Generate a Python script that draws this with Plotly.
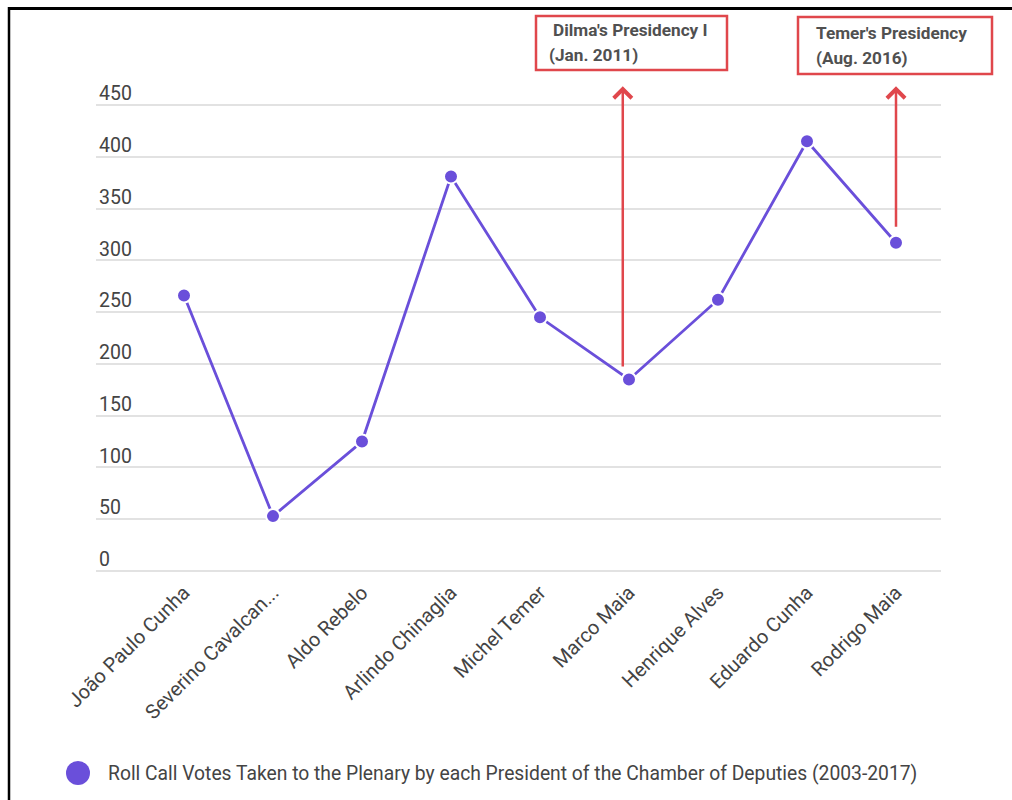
import plotly.graph_objects as go

# ---- data ----
presidents = ["João Paulo Cunha", "Severino Cavalcanti", "Aldo Rebelo", "Arlindo Chinaglia",
              "Michel Temer", "Marco Maia", "Henrique Alves", "Eduardo Cunha", "Rodrigo Maia"]
tick_text = ["João Paulo Cunha", "Severino Cavalcan...", "Aldo Rebelo", "Arlindo Chinaglia",
             "Michel Temer", "Marco Maia", "Henrique Alves", "Eduardo Cunha", "Rodrigo Maia"]
roll_call_votes = [266, 53, 125, 381, 245, 185, 262, 415, 317]
y_ticks = [0, 50, 100, 150, 200, 250, 300, 350, 400, 450]
series_name = "Roll Call Votes Taken to the Plenary by each President of the Chamber of Deputies (2003-2017)"

# annotation events: (x position, tail value, head value, label lines)
events = [
    {"x": 4.93, "tail": 196, "head": 468, "lines": ["Dilma's Presidency I", "(Jan. 2011)"]},
    {"x": 8.0, "tail": 331, "head": 468, "lines": ["Temer's Presidency", "(Aug. 2016)"]},
]

PURPLE = "#6a4fda"
RED = "#e0474c"
TEXT = "#444444"
FONT = "Roboto"

W, H = 1012, 800
L, R, T, B = 96, 71, 20, 224
PW, PH = W - L - R, H - T - B


def px_x(p):
    return (p - L) / PW


def px_y(p):
    return (H - B - p) / PH


fig = go.Figure()
fig.add_trace(go.Scatter(
    x=list(range(len(presidents))), y=roll_call_votes, mode="lines+markers",
    name=series_name, showlegend=False,
    line=dict(color=PURPLE, width=2.8),
    marker=dict(color=PURPLE, size=14, line=dict(color="white", width=2)),
))

# y range: 0 at pixel 571, 450 at pixel 105
upp = 450 / 466.0
y_lo = -(576 - 571) * upp
y_hi = y_lo + PH * upp

fig.update_layout(
    width=W, height=H,
    margin=dict(l=L, r=R, t=T, b=B, pad=0),
    paper_bgcolor="white", plot_bgcolor="white",
    font=dict(family=FONT, color=TEXT, size=19),
    xaxis=dict(
        range=[-88 / 89.0, 8 + 45 / 89.0],
        tickvals=list(range(len(presidents))), ticktext=tick_text,
        tickangle=-45, showgrid=False, zeroline=False, showline=False,
        ticks="", tickfont=dict(size=20, color=TEXT, family=FONT),
    ),
    yaxis=dict(
        range=[y_lo, y_hi], tickvals=y_ticks,
        ticklabelposition="inside top", ticklabelshift=2,
        showgrid=True, gridcolor="#e2e2e2", gridwidth=2,
        zeroline=False, showline=False, ticks="",
        tickfont=dict(size=19.5, color=TEXT, family=FONT),
    ),
)

# event arrows and boxes
box_px = [(536, 16, 727, 70), (798, 17, 992, 74)]
text_px = [((551, 547), 30, 25), ((814, 814), 33, 25)]
for ev, (x0, y0, x1, y1), (txs, ty, dy) in zip(events, box_px, text_px):
    fig.add_annotation(
        x=ev["x"], y=ev["head"], ax=ev["x"], ay=ev["tail"],
        xref="x", yref="y", axref="x", ayref="y",
        text="", showarrow=True, arrowhead=4, arrowsize=1.4, arrowwidth=2.5,
        arrowcolor=RED, standoff=0,
    )
    fig.add_shape(type="rect", xref="paper", yref="paper",
                  x0=px_x(x0), x1=px_x(x1), y0=px_y(y0), y1=px_y(y1),
                  line=dict(color=RED, width=2.5), fillcolor="rgba(0,0,0,0)")
    for i, line in enumerate(ev["lines"]):
        fig.add_annotation(
            x=px_x(txs[i]), y=px_y(ty + i * dy), xref="paper", yref="paper",
            xanchor="left", yanchor="middle", showarrow=False,
            text="<b>" + line + "</b>", font=dict(size=17.2, color="#505050", family=FONT),
        )

# legend (manual)
cx, cy, r = 78, 773, 12
fig.add_shape(type="circle", xref="paper", yref="paper",
              x0=px_x(cx - r), x1=px_x(cx + r), y0=px_y(cy + r), y1=px_y(cy - r),
              fillcolor=PURPLE, line=dict(width=0))
fig.add_annotation(x=px_x(106), y=px_y(cy), xref="paper", yref="paper",
                   xanchor="left", yanchor="middle", showarrow=False,
                   text=series_name, font=dict(size=19.3, color=TEXT, family=FONT))

# frame lines (top and left)
fig.add_shape(type="line", xref="paper", yref="paper",
              x0=px_x(8), x1=px_x(1012), y0=px_y(8.5), y1=px_y(8.5),
              line=dict(color="black", width=3))
fig.add_shape(type="line", xref="paper", yref="paper",
              x0=px_x(9), x1=px_x(9), y0=px_y(7), y1=px_y(800),
              line=dict(color="black", width=2.5))

fig.write_html("out.html")
